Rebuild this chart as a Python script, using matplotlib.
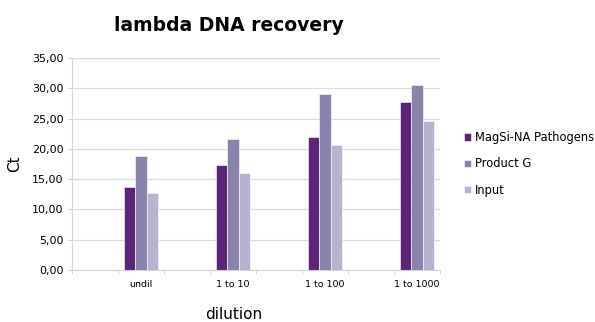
import matplotlib
matplotlib.use("Agg")
import matplotlib.pyplot as plt
import numpy as np
from matplotlib.ticker import FuncFormatter, FixedLocator

plt.rcParams['font.family'] = ['DejaVu Sans']

categories = ["undil", "1 to 10", "1 to 100", "1 to 1000"]
series_names = ["MagSi-NA Pathogens", "Product G", "Input"]
magsi = [13.7, 17.3, 21.9, 27.8]
product_g = [18.8, 21.7, 29.0, 30.5]
input_vals = [12.7, 16.0, 20.7, 24.6]
colors = ["#5C2577", "#8A84AD", "#B7B3CF"]

fig = plt.figure(figsize=(5.95, 3.22), dpi=100)
ax = fig.add_axes([0.121, 0.1615, 0.6185, 0.6585])

# Each dilution occupies every second slot of an eight-slot category axis
n_slots = 2 * len(categories)
centers = np.arange(1, n_slots, 2)
width = 0.25
for i, (vals, name) in enumerate(zip([magsi, product_g, input_vals], series_names)):
    ax.bar(centers + (i - 1) * width, vals, width, color=colors[i], label=name,
           edgecolor="white", linewidth=0.4, zorder=3)

ax.set_xlim(-0.5, n_slots - 0.5)
ax.set_ylim(0, 35)
ax.set_yticks(np.arange(0, 36, 5))
ax.yaxis.set_major_formatter(FuncFormatter(lambda v, p: f"{v:.2f}".replace(".", ",")))
ax.set_xticks(centers)
ax.set_xticklabels(categories, fontsize=6.8)
ax.xaxis.set_minor_locator(FixedLocator(np.arange(-0.5, n_slots, 1)))
ax.tick_params(axis="x", which="major", length=0, pad=7)
ax.tick_params(axis="x", which="minor", length=3, color="#d0d0d0")
ax.tick_params(axis="y", length=3, color="#d0d0d0", labelsize=8, pad=3)

ax.grid(axis="y", color="#dcdcdc", linewidth=0.9, zorder=0)
for s in ["top", "right"]:
    ax.spines[s].set_visible(False)
for s in ["left", "bottom"]:
    ax.spines[s].set_color("#d6d6d6")

ax.set_ylabel("Ct", fontsize=11)
ax.yaxis.set_label_coords(-0.135, 0.5)
fig.text(0.392, 0.0, "dilution", fontsize=11, ha="center", va="bottom")
fig.text(0.385, 0.92, "lambda DNA recovery", fontsize=13.5, fontweight="bold",
         ha="center", va="center")

ax.legend(loc="center left", bbox_to_anchor=(1.038, 0.5), frameon=False,
          fontsize=8.3, handlelength=0.6, handleheight=0.6, handletextpad=0.3,
          labelspacing=1.15)

fig.savefig("out.png", dpi=100)
